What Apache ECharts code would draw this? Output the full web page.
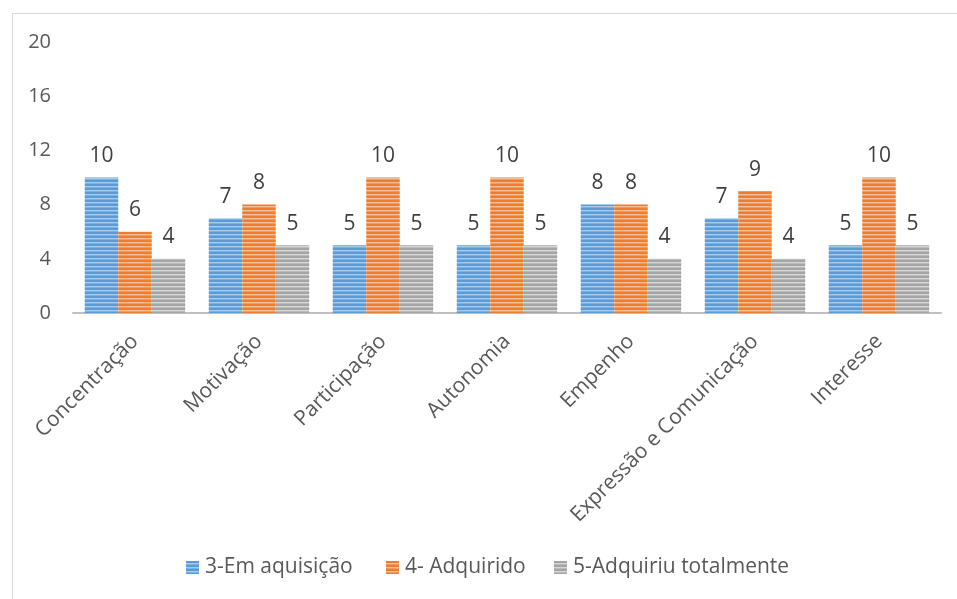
<!DOCTYPE html>
<html>
<head>
<meta charset="utf-8">
<script src="https://cdn.jsdelivr.net/npm/echarts@6/dist/echarts.min.js"></script>
<style>
  html, body { margin: 0; padding: 0; background: #fff; }
  #chart { width: 957px; height: 599px; }
</style>
</head>
<body>
<div id="chart"></div>
<script>
// Competências avaliadas e contagens por nível
const categories = ['Concentração', 'Motivação', 'Participação', 'Autonomia', 'Empenho', 'Expressão e Comunicação', 'Interesse'];
const emAquisicao = [10, 7, 5, 5, 8, 7, 5];
const adquirido = [6, 8, 10, 10, 8, 9, 10];
const adquiriuTotalmente = [4, 5, 5, 5, 4, 4, 5];
const seriesNames = ['3-Em aquisição', '4- Adquirido', '5-Adquiriu totalmente'];
const yTicks = [0, 4, 8, 12, 16, 20];

const FONT = '"Open Sans", "Liberation Sans", sans-serif';

// Horizontal striped fill built on a small canvas tile
function stripes(base, light, mid) {
  const c = document.createElement('canvas');
  c.width = 4; c.height = 4;
  const g = c.getContext('2d');
  g.fillStyle = base; g.fillRect(0, 0, 4, 2);
  g.fillStyle = light; g.fillRect(0, 2, 4, 1);
  g.fillStyle = mid; g.fillRect(0, 3, 4, 1);
  return { image: c, repeat: 'repeat' };
}

const fills = [
  stripes('#5B9BD5', '#A9CBEB', '#7DB0E0'),
  stripes('#ED7D31', '#F7BE96', '#F29A5E'),
  stripes('#A5A5A5', '#D6D6D6', '#BBBBBB')
];
const data = [emAquisicao, adquirido, adquiriuTotalmente];
// Legend entries sit in fixed slots along the bottom
const legendLeft = [186, 386, 554];

const chart = echarts.init(document.getElementById('chart'), null, { renderer: 'canvas' });

chart.setOption({
  animation: false,
  backgroundColor: '#ffffff',
  graphic: [{
    type: 'rect',
    left: 10, top: 11,
    shape: { width: 960, height: 600 },
    style: { fill: 'none', stroke: '#D9D9D9', lineWidth: 1 },
    silent: true
  }],
  grid: { left: 73, right: 16, top: 42, bottom: 286 },
  legend: seriesNames.map((n, i) => ({
    bottom: 21,
    left: legendLeft[i],
    padding: 0,
    itemWidth: 13,
    itemHeight: 13,
    icon: 'rect',
    textStyle: { fontFamily: FONT, fontSize: 21, color: '#595959', padding: [0, 0, 0, 1] },
    data: [{ name: n, itemStyle: { color: fills[i] } }]
  })),
  xAxis: {
    type: 'category',
    data: categories,
    axisLine: { lineStyle: { color: '#BFBFBF', width: 2 } },
    axisTick: { show: false },
    axisLabel: {
      rotate: 45,
      interval: 0,
      margin: 25,
      fontFamily: FONT,
      fontSize: 21,
      color: '#595959'
    }
  },
  yAxis: {
    type: 'value',
    min: yTicks[0],
    max: yTicks[yTicks.length - 1],
    interval: 4,
    axisLine: { show: false },
    axisTick: { show: false },
    splitLine: { show: false },
    axisLabel: { margin: 22, fontFamily: FONT, fontSize: 20, color: '#595959' }
  },
  series: seriesNames.map((name, i) => ({
    name: name,
    type: 'bar',
    data: data[i],
    barGap: '0%',
    barCategoryGap: '19%',
    itemStyle: { color: fills[i] },
    label: {
      show: true,
      position: 'top',
      distance: 11,
      fontFamily: FONT,
      fontSize: 21,
      color: '#404040'
    }
  }))
});
</script>
</body>
</html>
